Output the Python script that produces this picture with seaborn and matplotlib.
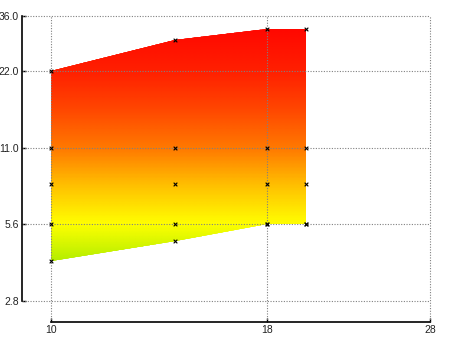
import numpy as np
import pandas as pd
import matplotlib
matplotlib.use("Agg")
import matplotlib.pyplot as plt
from matplotlib.colors import LinearSegmentedColormap
from matplotlib.ticker import FixedLocator, FixedFormatter, NullLocator
import seaborn as sns

# sample positions along x and the measured levels at each
x_vals = [10, 14, 18, 20]
low_vals = [4.0, 4.8, 5.6, 5.6]
mid1_vals = [5.6, 5.6, 5.6, 5.6]
mid2_vals = [8.0, 8.0, 8.0, 8.0]
mid3_vals = [11.0, 11.0, 11.0, 11.0]
high_vals = [22.0, 29.0, 32.0, 32.0]

x_ticks = [10, 18, 28]
x_tick_labels = ["10", "18", "28"]
y_ticks = [2.8, 5.6, 11.0, 22.0, 36.0]
y_tick_labels = ["2.8", "5.6", "11.0", "22.0", "36.0"]

# gradient anchors: level -> colour
grad_levels = [4.0, 5.6, 8.0, 11.0, 16.0, 22.0, 32.0]
grad_colors = ["#b4ee00", "#ffff00", "#ffbe00", "#ff7a00", "#ff4400", "#ff2000", "#ff0800"]

sns.set_style("ticks")
plt.rcParams["font.family"] = ["Liberation Sans", "DejaVu Sans"]

fig = plt.figure(figsize=(4.5, 3.37), dpi=100)
W, H = 450, 337
ax_w, ax_h = 430 - 51, 301 - 16
ax = fig.add_axes([51 / W, (H - 301) / H, ax_w / W, ax_h / H])
ax.set_xscale("log")
ax.set_yscale("log")
ax.set_xlim(10, 28)
ax.set_ylim(2.8, 36)

# envelope between the lowest and highest level
env = ax.fill_between(x_vals, low_vals, high_vals, facecolor="none", edgecolor="none")

lo, hi = np.log(grad_levels[0]), np.log(grad_levels[-1])
pos = [(np.log(v) - lo) / (hi - lo) for v in grad_levels]
cmap = LinearSegmentedColormap.from_list("heat", list(zip(pos, grad_colors)))

gx = np.geomspace(min(x_vals), max(x_vals), 40)
gy = np.geomspace(min(low_vals), max(high_vals), 300)
GX, GY = np.meshgrid(gx, gy)
mesh = ax.pcolormesh(GX, GY, np.log(GY), cmap=cmap, vmin=lo, vmax=hi,
                     shading="gouraud", zorder=1)
mesh.set_clip_path(env.get_paths()[0], transform=ax.transData)

# dotted grid reaching out to the offset spines
left_off, bottom_off = 29, 21
grid_kw = dict(color="#808080", linestyle=(0, (1, 1.4)), linewidth=0.8,
               clip_on=False, zorder=2)
for yv in y_ticks:
    ax.axhline(yv, xmin=-left_off / ax_w, xmax=1, **grid_kw)
for xv in x_ticks:
    ax.axvline(xv, ymin=-bottom_off / ax_h, ymax=1, **grid_kw)

# sample markers
rows = []
for series in (low_vals, mid1_vals, mid2_vals, mid3_vals, high_vals):
    for xv, yv in zip(x_vals, series):
        rows.append({"x": xv, "y": yv})
df = pd.DataFrame(rows)
sns.scatterplot(data=df, x="x", y="y", marker="x", color="black", s=7,
                linewidth=0.8, ax=ax, zorder=4, clip_on=False)

ax.xaxis.set_major_locator(FixedLocator(x_ticks))
ax.xaxis.set_major_formatter(FixedFormatter(x_tick_labels))
ax.xaxis.set_minor_locator(NullLocator())
ax.yaxis.set_major_locator(FixedLocator(y_ticks))
ax.yaxis.set_major_formatter(FixedFormatter(y_tick_labels))
ax.yaxis.set_minor_locator(NullLocator())

ax.set_xlabel("")
ax.set_ylabel("")
ax.tick_params(axis="both", direction="in", length=3, width=1, labelsize=7.5,
               colors="black", labelcolor="#222222", pad=2)

sns.despine(ax=ax, offset={"left": left_off * 0.72, "bottom": bottom_off * 0.72}, trim=True)
for s in ("left", "bottom"):
    ax.spines[s].set_linewidth(1.2)
    ax.spines[s].set_color("black")

fig.savefig("out.png", dpi=100)
